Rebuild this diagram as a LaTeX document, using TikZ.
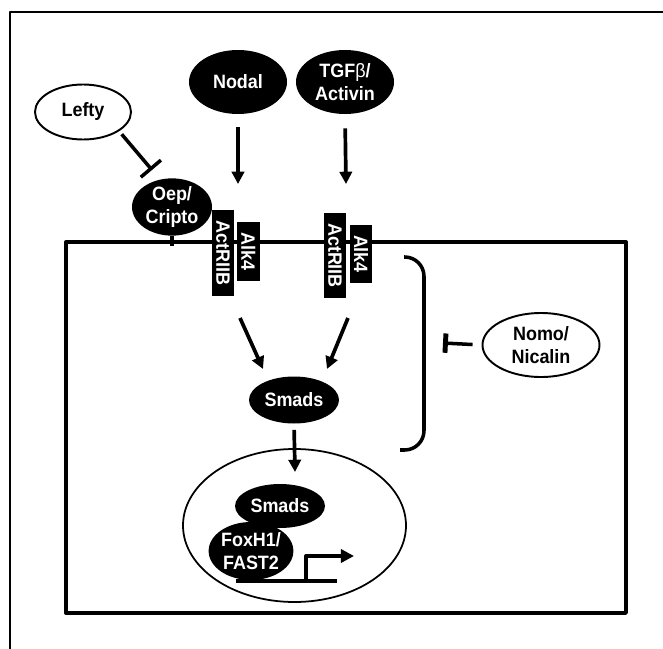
\documentclass[tikz,border=0pt]{standalone}
\usepackage{fontspec}
\setmainfont[FakeStretch=0.93]{Liberation Sans}
\usetikzlibrary{shapes.geometric,arrows.meta}

\begin{document}
\begin{tikzpicture}[x=0.02cm, y=-0.02cm, line join=round,
		font=\fontsize{11}{12.8}\selectfont\bfseries,
		dark/.style={ellipse, fill=black, text=white, inner sep=0pt, align=center},
		light/.style={ellipse, draw, line width=1.1pt, fill=white, inner sep=0pt, align=center},
		recep/.style={rectangle, fill=black, text=white, inner sep=0pt, rotate=-90},
		act/.style={line width=2.1pt, -{Triangle[length=7pt,width=7pt]}},
		inh/.style={line width=2pt, -{Bar[width=15pt,line width=2pt]}}]
	\def\u{0.02cm}  % 1 px
	\useasboundingbox (0,0) rectangle (663,649);
	% khung ngoai va te bao
	\draw[line width=1.1pt] (10,649) -- (10,12) -- (663,12);
	\draw[line width=1.9pt] (66,242) rectangle (626,613);
	\node[light, line width=1pt, minimum width=223*\u, minimum height=153*\u] (nucleus) at (294.5,525.5) {};
	% phoi tu
	\node[light, minimum width=96*\u, minimum height=55*\u] (lefty) at (83,112) {Lefty};
	\node[dark, minimum width=98*\u, minimum height=64*\u] (nodal) at (238,82) {Nodal};
	\node[dark, minimum width=98*\u, minimum height=64*\u] (tgf) at (345,82) {TGF{\mdseries β}/\\Activin};
	\node[dark, minimum width=80*\u, minimum height=53*\u] (oep) at (172,207) {Oep/\\Cripto};
	\draw[line width=2.8pt] (oep.south) -- ++(0,10);
	% thu the
	\node[recep, minimum width=86*\u, minimum height=22*\u] (actA) at (223,253) {ActRIIB};
	\node[recep, minimum width=59*\u, minimum height=23*\u] (alkA) at (248.5,251.5) {Alk4};
	\node[recep, minimum width=85*\u, minimum height=22*\u] (actB) at (335,255.5) {ActRIIB};
	\node[recep, minimum width=58*\u, minimum height=22*\u] (alkB) at (361,254) {Alk4};
	% Smads
	\node[dark, minimum width=90*\u, minimum height=47*\u] (smads) at (294,400) {Smads};
	\node[dark, minimum width=90*\u, minimum height=44*\u] (smadsN) at (280,506) {Smads};
	\node[dark, minimum width=84*\u, minimum height=58*\u] (fox) at (251,551) {FoxH1/\\FAST2};
	\node[light, minimum width=117*\u, minimum height=64*\u] (nomo) at (541,345) {Nomo/\\Nicalin};
	% gen dich
	\draw[line width=2.3pt] (236,581) -- (337,581);
	\draw[line width=2.3pt, -{Triangle[length=7.5pt,width=7.5pt]}] (306,581) -- (306,556) -- (354,556);
	% mui ten
	\coordinate (inA) at (238,184);
	\coordinate (inB) at (346,184);
	\coordinate (oA) at (240,318);
	\coordinate (tA) at (263,369);
	\coordinate (oB) at (348,318);
	\coordinate (tB) at (327,369);
	\coordinate (nIn) at (295,472);
	\coordinate (bL) at (152,170);
	\coordinate (bN) at (443,343);
	\draw[act, shorten <=13*\u] (nodal.south) -- (inA);
	\draw[act, shorten <=14*\u] (tgf.south) -- (inB);
	\draw[act] (oA) -- (tA);
	\draw[act] (oB) -- (tB);
	\draw[act, shorten <=6*\u] (smads.south) -- (nIn);
	\draw[inh, shorten <=4*\u] (lefty.-28) -- (bL);
	\draw[line width=2pt, -{Bar[width=11pt,line width=2.8pt]}, shorten <=9*\u] (nomo.west) -- (bN);
	% ngoac
	\draw[line width=2pt, rounded corners=11pt] (404,257) -| (424,450) -- (400,450);
\end{tikzpicture}
\end{document}
